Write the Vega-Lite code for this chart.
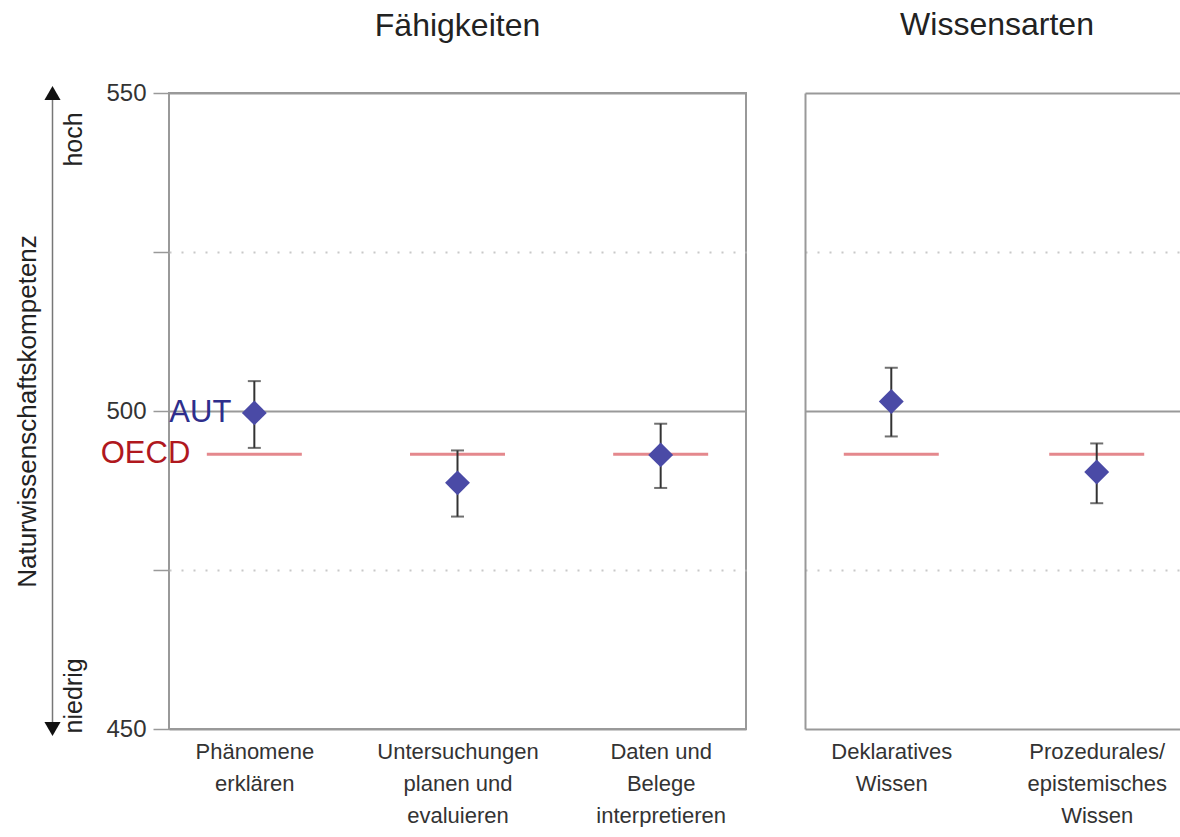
{
  "$schema": "https://vega.github.io/schema/vega-lite/v6.json",
  "background": "white",
  "padding": {"left": 14, "top": 9, "right": 0, "bottom": 0},
  "config": {
    "font": "Liberation Sans",
    "view": {"stroke": null},
    "title": {"fontSize": 32, "fontWeight": "normal", "color": "#222222", "baseline": "alphabetic", "anchor": "middle"}
  },
  "datasets": {
    "werte": [
      {"bereich": "Fähigkeiten", "kategorie": "Phänomene|erklären", "aut": 499.7, "lo": 494.2, "hi": 504.7, "oecd": 493.2},
      {"bereich": "Fähigkeiten", "kategorie": "Untersuchungen|planen und|evaluieren", "aut": 488.7, "lo": 483.4, "hi": 493.8, "oecd": 493.2},
      {"bereich": "Fähigkeiten", "kategorie": "Daten und|Belege|interpretieren", "aut": 493.1, "lo": 487.9, "hi": 498.0, "oecd": 493.2},
      {"bereich": "Wissensarten", "kategorie": "Deklaratives|Wissen", "aut": 501.5, "lo": 496.0, "hi": 506.8, "oecd": 493.2},
      {"bereich": "Wissensarten", "kategorie": "Prozedurales/|epistemisches|Wissen", "aut": 490.4, "lo": 485.5, "hi": 494.9, "oecd": 493.2}
    ],
    "pfeil": [{"teil": "Pfeil", "von": 450, "bis": 550}],
    "pfeilspitzen": [
      {"teil": "Pfeil", "wert": 550, "richtung": "hoch"},
      {"teil": "Pfeil", "wert": 450, "richtung": "niedrig"}
    ],
    "pole": [
      {"teil": "Beschriftung", "wert": 542.7, "text": "hoch"},
      {"teil": "Beschriftung", "wert": 455.2, "text": "niedrig"}
    ]
  },
  "spacing": 12,
  "hconcat": [
    {
      "title": {"text": " ", "offset": 20},
      "width": 42,
      "height": 636,
      "encoding": {
        "x": {"field": "teil", "type": "nominal", "scale": {"type": "point", "domain": ["Pfeil", "Beschriftung"], "padding": 0.5}, "axis": null}
      },
      "layer": [
        {
          "data": {"name": "pfeil"},
          "mark": {"type": "rule", "color": "#777777", "strokeWidth": 1.5},
          "encoding": {
            "y": {"field": "von", "type": "quantitative", "title": "Naturwissenschaftskompetenz",
              "scale": {"domain": [450, 550], "nice": false, "zero": false},
              "axis": {"labels": false, "ticks": false, "domain": false, "grid": false, "titleFontSize": 26, "titleFontWeight": "normal", "titleColor": "#222222", "titlePadding": 2}},
            "y2": {"field": "bis"}
          }
        },
        {
          "data": {"name": "pfeilspitzen"},
          "mark": {"type": "point", "filled": true, "color": "#111111", "size": 260, "opacity": 1},
          "encoding": {
            "y": {"field": "wert", "type": "quantitative", "title": "Naturwissenschaftskompetenz", "scale": {"domain": [450, 550], "nice": false, "zero": false}},
            "shape": {"field": "richtung", "type": "nominal", "scale": {"domain": ["hoch", "niedrig"], "range": ["triangle-up", "triangle-down"]}, "legend": null}
          }
        },
        {
          "data": {"name": "pole"},
          "mark": {"type": "text", "angle": 270, "fontSize": 25, "color": "#222222", "align": "center", "baseline": "middle"},
          "encoding": {
            "y": {"field": "wert", "type": "quantitative", "title": "Naturwissenschaftskompetenz", "scale": {"domain": [450, 550], "nice": false, "zero": false}},
            "text": {"field": "text"}
          }
        }
      ]
    },
    {
      "spacing": 58,
      "hconcat": [
        {
          "title": {"text": "Fähigkeiten", "offset": 38},
          "width": 577,
          "height": 636,
          "view": {"stroke": "#999999", "strokeWidth": 2},
          "data": {"name": "werte"},
          "transform": [{"filter": "datum.bereich === 'Fähigkeiten'"}],
          "encoding": {
            "x": {"field": "kategorie", "type": "nominal", "sort": null, "title": null,
              "scale": {"type": "point", "padding": 0.42},
              "axis": {"labelExpr": "split(datum.label, '|')", "labelFontSize": 22, "labelColor": "#333333", "labelLineHeight": 32, "labelPadding": 12, "labelBaseline": "top", "labelAngle": 0, "labelLimit": 400, "ticks": false, "domain": false, "grid": false}}
          },
          "layer": [
            {
              "mark": {"type": "tick", "color": "#d8555c", "thickness": 3, "size": 95},
              "encoding": {
                "y": {"field": "oecd", "type": "quantitative", "title": null,
                  "scale": {"domain": [450, 550], "nice": false, "zero": false},
                  "axis": {
                    "values": [450, 475, 500, 525, 550],
                    "labelExpr": "datum.value % 50 === 0 ? datum.label : ''",
                    "labelFontSize": 24, "labelColor": "#333333", "labelPadding": 7,
                    "ticks": true, "tickSize": 16, "tickColor": "#999999", "tickWidth": 1.5,
                    "domain": false,
                    "grid": true,
                    "gridColor": {"condition": {"test": "datum.value === 475 || datum.value === 525", "value": "#c8c8c8"}, "value": "#999999"},
                    "gridDash": {"condition": {"test": "datum.value === 475 || datum.value === 525", "value": [2, 10]}, "value": []},
                    "gridWidth": 2
                  }}
              }
            },
            {
              "mark": {"type": "rule", "color": "#333333", "strokeWidth": 2},
              "encoding": {
                "y": {"field": "lo", "type": "quantitative", "title": null, "scale": {"domain": [450, 550], "nice": false, "zero": false}},
                "y2": {"field": "hi"}
              }
            },
            {
              "mark": {"type": "tick", "color": "#333333", "thickness": 2, "size": 13},
              "encoding": {"y": {"field": "lo", "type": "quantitative", "title": null, "scale": {"domain": [450, 550], "nice": false, "zero": false}}}
            },
            {
              "mark": {"type": "tick", "color": "#333333", "thickness": 2, "size": 13},
              "encoding": {"y": {"field": "hi", "type": "quantitative", "title": null, "scale": {"domain": [450, 550], "nice": false, "zero": false}}}
            },
            {
              "mark": {"type": "point", "shape": "diamond", "filled": true, "color": "#4a4aa6", "size": 620, "opacity": 1},
              "encoding": {"y": {"field": "aut", "type": "quantitative", "title": null, "scale": {"domain": [450, 550], "nice": false, "zero": false}}}
            },
            {
              "transform": [{"filter": "datum.kategorie === 'Phänomene|erklären'"}],
              "mark": {"type": "text", "text": "AUT", "fontSize": 31, "color": "#2e2e8c", "align": "right", "baseline": "middle", "dx": -23},
              "encoding": {"y": {"field": "aut", "type": "quantitative", "title": null, "scale": {"domain": [450, 550], "nice": false, "zero": false}}}
            },
            {
              "transform": [{"filter": "datum.kategorie === 'Phänomene|erklären'"}],
              "mark": {"type": "text", "text": "OECD", "fontSize": 31, "color": "#b0181e", "align": "right", "baseline": "middle", "dx": -64},
              "encoding": {"y": {"field": "oecd", "type": "quantitative", "title": null, "scale": {"domain": [450, 550], "nice": false, "zero": false}}}
            }
          ]
        },
        {
          "title": {"text": "Wissensarten", "dx": 3, "offset": 51},
          "width": 378,
          "height": 636,
          "data": {"name": "werte"},
          "transform": [{"filter": "datum.bereich === 'Wissensarten'"}],
          "encoding": {
            "x": {"field": "kategorie", "type": "nominal", "sort": null, "title": null,
              "scale": {"type": "point", "padding": 0.42},
              "axis": {"labelExpr": "split(datum.label, '|')", "labelFontSize": 22, "labelColor": "#333333", "labelLineHeight": 32, "labelPadding": 12, "labelBaseline": "top", "labelAngle": 0, "labelLimit": 400, "ticks": false, "domain": false, "grid": false}}
          },
          "layer": [
            {
              "mark": {"type": "tick", "color": "#d8555c", "thickness": 3, "size": 95},
              "encoding": {
                "y": {"field": "oecd", "type": "quantitative", "title": null,
                  "scale": {"domain": [450, 550], "nice": false, "zero": false},
                  "axis": {
                    "values": [450, 475, 500, 525, 550],
                    "labels": false,
                    "ticks": false,
                    "domain": true, "domainColor": "#999999", "domainWidth": 2,
                    "grid": true,
                    "gridColor": {"condition": {"test": "datum.value === 475 || datum.value === 525", "value": "#c8c8c8"}, "value": "#999999"},
                    "gridDash": {"condition": {"test": "datum.value === 475 || datum.value === 525", "value": [2, 10]}, "value": []},
                    "gridWidth": 2
                  }}
              }
            },
            {
              "mark": {"type": "rule", "color": "#333333", "strokeWidth": 2},
              "encoding": {
                "y": {"field": "lo", "type": "quantitative", "title": null, "scale": {"domain": [450, 550], "nice": false, "zero": false}},
                "y2": {"field": "hi"}
              }
            },
            {
              "mark": {"type": "tick", "color": "#333333", "thickness": 2, "size": 13},
              "encoding": {"y": {"field": "lo", "type": "quantitative", "title": null, "scale": {"domain": [450, 550], "nice": false, "zero": false}}}
            },
            {
              "mark": {"type": "tick", "color": "#333333", "thickness": 2, "size": 13},
              "encoding": {"y": {"field": "hi", "type": "quantitative", "title": null, "scale": {"domain": [450, 550], "nice": false, "zero": false}}}
            },
            {
              "mark": {"type": "point", "shape": "diamond", "filled": true, "color": "#4a4aa6", "size": 620, "opacity": 1},
              "encoding": {"y": {"field": "aut", "type": "quantitative", "title": null, "scale": {"domain": [450, 550], "nice": false, "zero": false}}}
            }
          ]
        }
      ]
    }
  ]
}
